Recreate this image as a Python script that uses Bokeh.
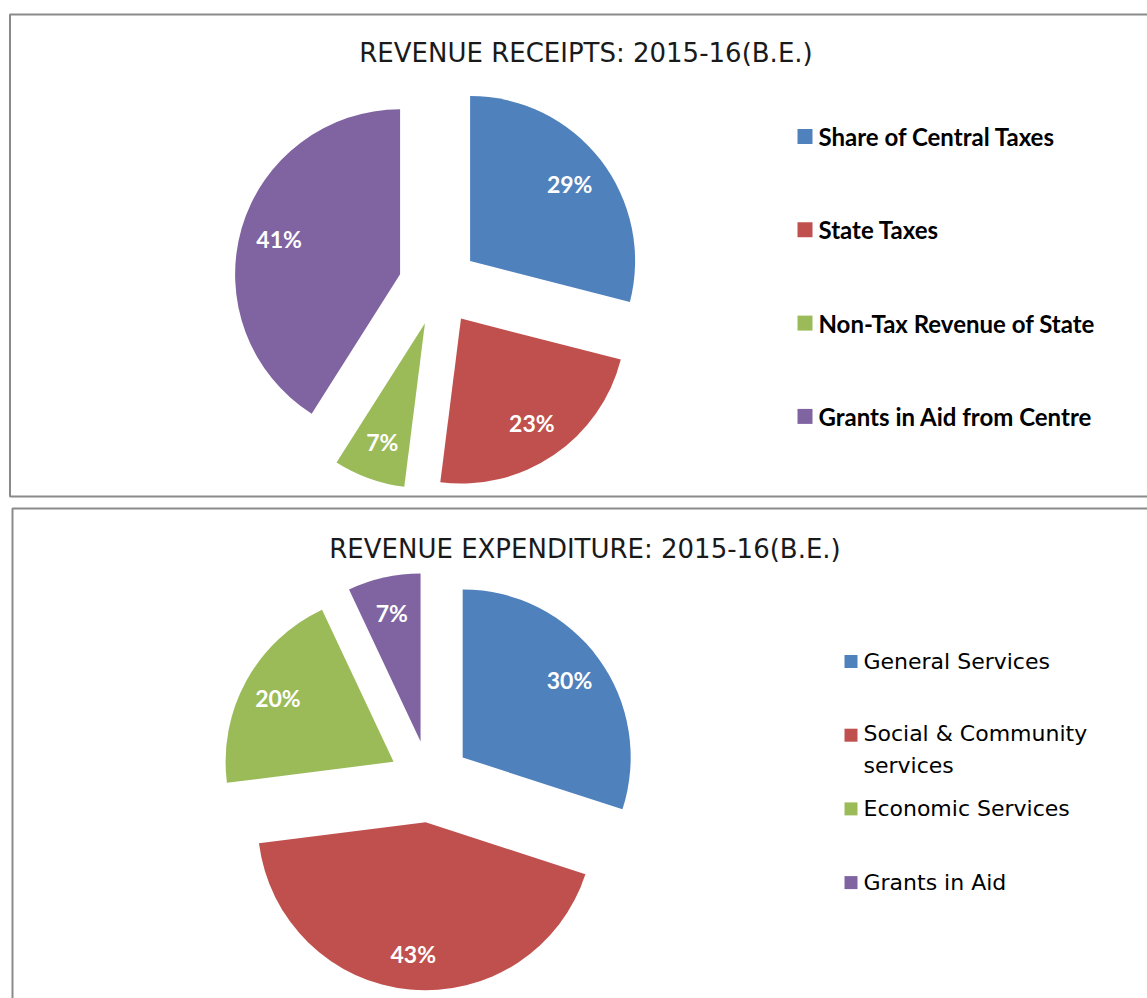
import math
import textwrap
from bokeh.plotting import figure
from bokeh.models import Range1d, ColumnDataSource
from bokeh.core.properties import value
from bokeh.embed import file_html
from bokeh.resources import INLINE

# ---------------- data ----------------
receipt_title = "REVENUE RECEIPTS: 2015-16(B.E.)"
receipt_categories = ["Share of Central Taxes", "State Taxes", " Non-Tax Revenue of State", "Grants in Aid from Centre"]
receipt_shares = [29, 23, 7, 41]

expenditure_title = "REVENUE EXPENDITURE: 2015-16(B.E.)"
expenditure_categories = ["General Services", "Social & Community services", "Economic Services", "Grants in Aid"]
expenditure_shares = [30, 43, 20, 7]

colors = ["#4F81BD", "#C0504D", "#9BBB59", "#8064A2"]

# ---------------- figure ----------------
W, H = 1147, 998
p = figure(width=W, height=H, x_range=Range1d(0, W), y_range=Range1d(0, H),
           output_backend="svg", toolbar_location=None, min_border=0,
           x_axis_type=None, y_axis_type=None, outline_line_color=None)
p.grid.visible = False
p.background_fill_color = "white"
p.border_fill_color = "white"

# panel frames
p.quad(left=[9.5, 12], right=[1170, 1170], top=[984, 490], bottom=[502, -20],
       fill_color=None, line_color="#8a8a8a", line_width=2)


def draw_pie(shares, cx, cy, r, explode, label_r):
    total = float(sum(shares))
    a = math.pi / 2
    xs, ys, st, en, lx, ly, labels = [], [], [], [], [], [], []
    for s in shares:
        sweep = 2 * math.pi * s / total
        mid = a - sweep / 2
        ox = cx + explode * math.cos(mid)
        oy = cy + explode * math.sin(mid)
        xs.append(ox); ys.append(oy)
        st.append(a - sweep); en.append(a)
        lx.append(ox + label_r * math.cos(mid)); ly.append(oy + label_r * math.sin(mid))
        labels.append(f"{s}%")
        a -= sweep
    src = ColumnDataSource(dict(x=xs, y=ys, start=st, end=en, color=colors[:len(shares)]))
    p.wedge(x="x", y="y", radius=r, start_angle="start", end_angle="end",
            direction="anticlock", fill_color="color", line_color=None, source=src)
    p.text(x=lx, y=ly, text=labels, text_color="white", text_font=value("Lato"),
           text_font_style="bold", text_font_size="23px",
           text_align="center", text_baseline="middle")


def draw_legend(cats, sq_x, sq_size, text_x, y0, step, font, style, size, line_h, wrap=None):
    sx, sy, tx, ty, tt = [], [], [], [], []
    for i, c in enumerate(cats):
        y = y0 - i * step
        sx.append(sq_x); sy.append(y)
        lines = textwrap.wrap(c, wrap) if wrap else [c]
        tx.append(text_x)
        ty.append(y - (len(lines) - 1) * line_h / 2.0)
        tt.append("\n".join(lines))
    p.rect(x=sx, y=sy, width=sq_size, height=sq_size, fill_color=colors[:len(cats)], line_color=None)
    p.text(x=tx, y=ty, text=tt, text_color="black", text_font=value(font),
           text_font_style=style, text_font_size=size, text_align="left",
           text_baseline="middle", text_line_height=line_h / float(size.replace("px", "")))


# titles
p.text(x=[585.5], y=[946], text=[receipt_title], text_color="#1a1a1a",
       text_font=value("DejaVu Sans"), text_font_size="26px",
       text_align="center", text_baseline="middle")
p.text(x=[584.5], y=[450], text=[expenditure_title], text_color="#1a1a1a",
       text_font=value("DejaVu Sans"), text_font_size="26px",
       text_align="center", text_baseline="middle")

# pies
draw_pie(receipt_shares, 438, 713, 165, 40, 126)
draw_pie(expenditure_shares, 429, 217, 168, 41, 132)

# legends
draw_legend(receipt_categories, 804.5, 15, 818, 862, 93.3, "Lato", "bold", "24px", 28)
draw_legend(expenditure_categories, 850.5, 13, 863, 337, 73.7, "DejaVu Sans", "normal", "22px", 28, wrap=18)

open("out.html", "w").write(file_html(p, INLINE))
